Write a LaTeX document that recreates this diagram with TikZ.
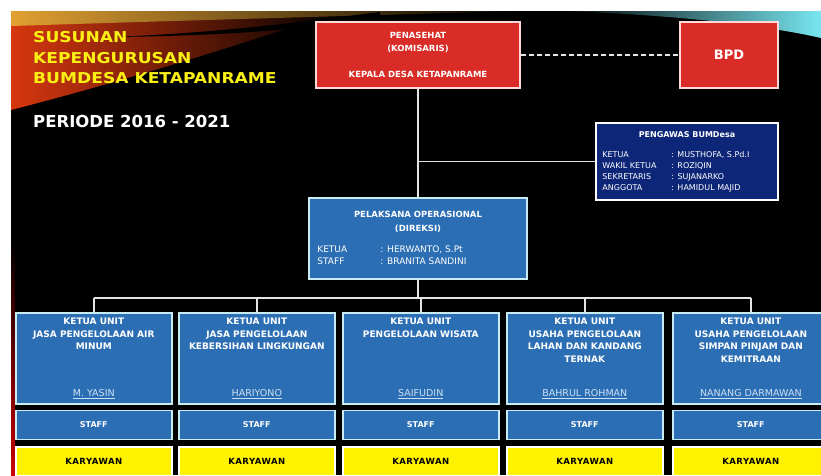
\documentclass[tikz,border=0pt]{standalone}
\usepackage{fontspec}
\setmainfont{DejaVu Sans}
\usetikzlibrary{positioning}

\definecolor{boxred}{RGB}{218,44,38}
\definecolor{unitblue}{RGB}{44,110,180}
\definecolor{navyblue}{RGB}{14,38,120}
\definecolor{edgecyan}{RGB}{200,236,242}
\definecolor{namecol}{RGB}{205,225,245}
\definecolor{titleyellow}{RGB}{250,240,20}
\definecolor{linegray}{RGB}{228,228,228}
\definecolor{glowred}{RGB}{215,55,15}
\definecolor{glowgold}{RGB}{225,160,50}
\definecolor{glowcyan}{RGB}{120,230,240}

\newcommand{\bigtitle}[1]{\scalebox{1.14}[1]{#1}}

\begin{document}
\begin{tikzpicture}[x=1pt,y=-1pt,
  every node/.style={inner sep=0pt},
  link/.style={draw=linegray, line width=1.5pt},
  titletext/.style={anchor=base west, text=titleyellow, font=\bfseries\fontsize{15}{18}\selectfont},
  redbox/.style={draw=white!85!red, line width=1.6pt, fill=boxred, text=white,
    font=\bfseries\fontsize{8.5}{13}\selectfont, align=center},
  bluebox/.style={draw=edgecyan, line width=1.6pt, fill=unitblue},
  unitbox/.style={bluebox, anchor=north west, minimum width=156pt, minimum height=91pt},
  unittitle/.style={text=white, align=center, font=\bfseries\fontsize{9}{12.5}\selectfont},
  unitname/.style={text=namecol, font=\fontsize{9.5}{11}\selectfont},
  staffbox/.style={bluebox, minimum width=156pt, minimum height=29pt, text=white,
    font=\bfseries\fontsize{8}{10}\selectfont},
  karbox/.style={draw=white, line width=1.6pt, fill=yellow, minimum width=156pt, minimum height=29pt,
    font=\bfseries\fontsize{8.5}{10}\selectfont\addfontfeature{LetterSpace=6}},
  navybox/.style={draw=white, line width=1.6pt, fill=navyblue},
  rowtext/.style={text=white, anchor=north west, align=left}
]
\useasboundingbox (0,0) rectangle (821,475);

% background
\fill[black] (11,11) rectangle (821,475);
\shade[left color=glowred, middle color=glowred!45!black, right color=black]
  (11,11) -- (340,11) .. controls (240,45) and (120,82) .. (11,110) -- cycle;
\shade[left color=glowgold, middle color=glowgold!60!black, right color=black]
  (11,11) -- (520,11) .. controls (380,15) and (200,20) .. (11,26) -- cycle;
\fill[black] (110,37) .. controls (220,33) and (300,22) .. (380,12)
  -- (380,18) .. controls (300,30) and (220,36) .. (110,37) -- cycle;
\shade[left color=black, right color=glowcyan]
  (560,11) -- (821,11) -- (821,38) .. controls (760,24) and (660,14) .. (560,11) -- cycle;
\shade[top color=black, bottom color=red!80!black] (11,240) rectangle (15,475);

% title
\node[titletext] (ttl1) at (33,42) {\bigtitle{SUSUNAN}};
\node[titletext] (ttl2) at (33,63) {\bigtitle{KEPENGURUSAN}};
\node[titletext] (ttl3) at (33,83) {\bigtitle{BUMDESA KETAPANRAME}};
\node[titletext, text=white, font=\bfseries\fontsize{16.5}{18}\selectfont] (per) at (33,127) {PERIODE 2016 - 2021};

% top level
\node[redbox, minimum width=204pt, minimum height=66pt] (pen) at (418,55)
  {PENASEHAT\\(KOMISARIS)\\[13pt]KEPALA DESA KETAPANRAME};
\node[redbox, minimum width=98pt, minimum height=66pt, font=\bfseries\fontsize{13}{15}\selectfont] (bpd) at (729,55) {BPD};

% pengawas
\node[navybox, minimum width=182pt, minimum height=77pt] (pgw) at (687,161.5) {};
\node[text=white, font=\bfseries\fontsize{8}{10}\selectfont, below=9pt of pgw.north] (pgwt) {PENGAWAS BUMDesa};
\node[rowtext, font=\fontsize{8}{11}\selectfont, xshift=7pt, yshift=-12pt] (pgwr) at (pgw.west |- pgwt.south)
  {\begin{tabular}{@{}p{69pt}@{}l@{}}
    KETUA & : MUSTHOFA, S.Pd.I\\
    WAKIL KETUA & : ROZIQIN\\
    SEKRETARIS & : SUJANARKO\\
    ANGGOTA & : HAMIDUL MAJID
  \end{tabular}};

% pelaksana
\node[bluebox, minimum width=218pt, minimum height=81pt] (pel) at (418,238.5) {};
\node[text=white, align=center, font=\bfseries\fontsize{8.5}{14}\selectfont, below=14pt of pel.north] (pelt)
  {PELAKSANA OPERASIONAL\\(DIREKSI)};
\node[rowtext, font=\fontsize{9}{12}\selectfont, xshift=9pt, yshift=-11pt] (pelr) at (pel.west |- pelt.south)
  {\begin{tabular}{@{}p{63pt}@{}l@{}}
    KETUA & : HERWANTO, S.Pt\\
    STAFF & : BRANITA SANDINI
  \end{tabular}};

% connectors
\draw[link] (pen.south) -- (pel.north);
\draw[link] (pen.south |- pgw.west) -- (pgw.west);
\draw[link, dash pattern=on 5pt off 3pt] (pen.east) -- (bpd.west);
\draw[link] (pel.south) -- ++(0,18) coordinate (bus);

% units
\foreach \i/\x/\ttl/\nm in {
  1/15/{KETUA UNIT\\JASA PENGELOLAAN AIR\\MINUM}/{M. YASIN},
  2/178/{KETUA UNIT\\JASA PENGELOLAAN\\KEBERSIHAN LINGKUNGAN}/{HARIYONO},
  3/342/{KETUA UNIT\\PENGELOLAAN WISATA}/{SAIFUDIN},
  4/506/{KETUA UNIT\\USAHA PENGELOLAAN\\LAHAN DAN KANDANG\\TERNAK}/{BAHRUL ROHMAN},
  5/672/{KETUA UNIT\\USAHA PENGELOLAAN\\SIMPAN PINJAM DAN\\KEMITRAAN}/{NANANG DARMAWAN}}
{
  \node[unitbox] (u\i) at (\x,312) {};
  \node[unittitle, below=6pt of u\i.north] (t\i) {\ttl};
  \node[unitname, above=6pt of u\i.south] (n\i) {\underline{\nm}};
  \node[staffbox, below=5pt of u\i] (s\i) {STAFF};
  \node[karbox, below=6pt of s\i] (k\i) {KARYAWAN};
  \draw[link] (bus -| u\i.north) -- (u\i.north);
}
\draw[link] (bus -| u1.north) -- (bus -| u5.north);
\end{tikzpicture}
\end{document}
